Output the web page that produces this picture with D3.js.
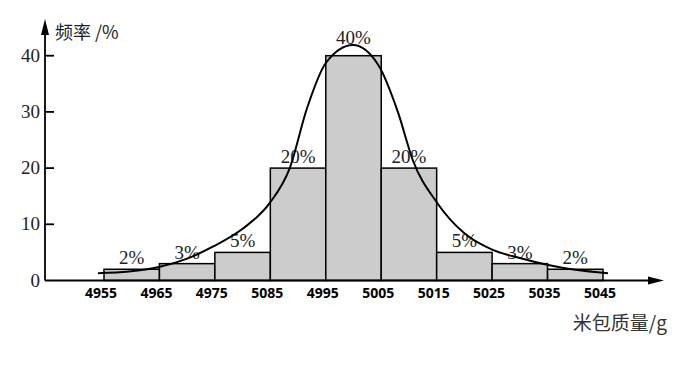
<!DOCTYPE html>
<html><head><meta charset="utf-8">
<script src="https://cdn.jsdelivr.net/npm/d3@7"></script>
<style>body{margin:0;background:#fff}</style>
</head><body>
<svg id="c" width="687" height="365"></svg>
<script>
const tickLabels = ["4955","4965","4975","5085","4995","5005","5015","5025","5035","5045"];
const freq = [2,3,5,20,40,20,5,3,2];
const pctLabels = ["2%","3%","5%","20%","40%","20%","5%","3%","2%"];
const yTicks = [0,10,20,30,40];
// curve points: x in bin units (0 = first edge), y in %
const curveX = [-0.11,0.45,0.99,1.5,1.98,2.5,2.99,3.35,3.66,4.0,4.49,4.95,5.3,5.57,6.01,6.5,7.0,7.5,7.99,8.5,9.09];
const curveY = [1.3,1.6,2.4,3.9,6.1,9.2,13.8,20.0,30.6,38.7,41.9,38.3,30.0,21.4,13.8,8.4,5.5,4.0,2.8,1.9,1.3];

const svg = d3.select("#c");
const x = d3.scaleLinear().domain([0, freq.length]).range([104, 603]);
const y = d3.scaleLinear().domain([0, 40]).range([280.5, 55.7]);
const serif = "'Liberation Serif','DejaVu Serif',serif";

// bars
svg.selectAll("rect.bar").data(freq).join("rect")
  .attr("x", (d,i)=>x(i)).attr("width", (d,i)=>x(i+1)-x(i))
  .attr("y", d=>y(d)).attr("height", d=>y(0)-y(d))
  .attr("fill","#cccccc").attr("stroke","#000").attr("stroke-width",1.5);

// percentage labels
const maxF = d3.max(freq);
svg.selectAll("text.pct").data(freq).join("text")
  .attr("x",(d,i)=>(x(i)+x(i+1))/2)
  .attr("y",d=>y(d)-(d===maxF?12:5))
  .attr("text-anchor","middle").attr("font-family",serif).attr("font-size",19)
  .attr("fill","#222").text((d,i)=>pctLabels[i]);

// curve
const line = d3.line().x(d=>x(d[0])).y(d=>y(d[1])).curve(d3.curveMonotoneX);
svg.append("path").attr("d", line(curveX.map((v,i)=>[v,curveY[i]])))
  .attr("fill","none").attr("stroke","#000").attr("stroke-width",2);

// axes
const x0 = 45;
svg.append("line").attr("x1",x0).attr("x2",x0).attr("y1",y(0)).attr("y2",30).attr("stroke","#000").attr("stroke-width",1.8);
svg.append("path").attr("d",`M${x0},19 L${x0-4},35 L${x0+4},35 Z`).attr("fill","#000");
svg.append("line").attr("x1",x0).attr("x2",655).attr("y1",y(0)).attr("y2",y(0)).attr("stroke","#000").attr("stroke-width",1.8);
svg.append("path").attr("d",`M664,${y(0)} L648,${y(0)-4} L648,${y(0)+4} Z`).attr("fill","#000");

// y ticks
const yt = svg.append("g");
yt.selectAll("line").data(yTicks.filter(d=>d>0)).join("line")
  .attr("x1",x0).attr("x2",x0+9).attr("y1",d=>y(d)).attr("y2",d=>y(d)).attr("stroke","#000").attr("stroke-width",1.8);
yt.selectAll("text").data(yTicks).join("text")
  .attr("x",40).attr("y",d=>y(d)+6).attr("text-anchor","end")
  .attr("font-family",serif).attr("font-size",19).attr("fill","#222").text(d=>d);

// x tick labels
svg.selectAll("text.xt").data(tickLabels).join("text")
  .attr("x",(d,i)=>x(i)-3).attr("y",298).attr("text-anchor","middle")
  .attr("font-family","'Open Sans','DejaVu Sans',sans-serif").attr("font-weight","bold")
  .attr("font-size",14).attr("fill","#000").text(d=>d);

// axis titles
svg.append("text").attr("x",55).attr("y",39).attr("font-size",18).attr("fill","#222")
  .attr("font-family","'Noto Sans CJK SC',sans-serif").text("频率 /%");
svg.append("text").attr("x",667).attr("y",330).attr("text-anchor","end").attr("font-size",19).attr("fill","#333")
  .attr("font-family","'Noto Sans CJK SC',sans-serif").text("米包质量/g");
</script>
</body></html>
